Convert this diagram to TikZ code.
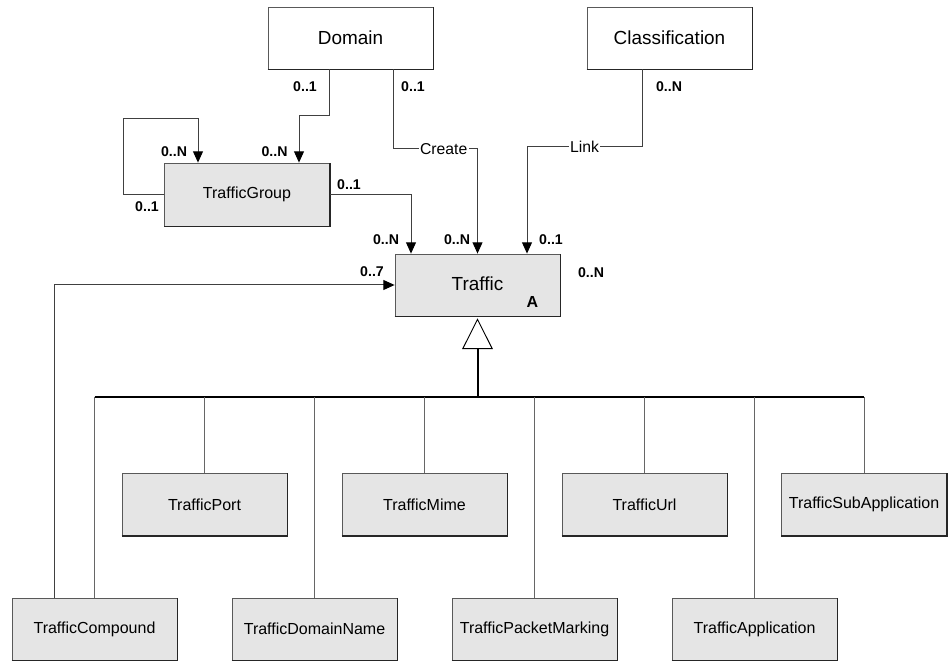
\documentclass[tikz,border=0pt]{standalone}
\usepackage{fontspec}
\setmainfont{Liberation Sans}
\usetikzlibrary{arrows.meta,calc}
\begin{document}
\begin{tikzpicture}[x=0.75pt,y=-0.75pt,
  classbox/.style={draw=black!65, line width=0.6pt, fill=black!10,
    minimum width=123.75pt, minimum height=46.5pt, inner sep=0pt,
    font=\fontsize{12}{14}\selectfont},
  bigbox/.style={classbox, fill=white, font=\fontsize{14.2}{17}\selectfont},
  mult/.style={font=\bfseries\fontsize{10.6}{13}\selectfont, inner sep=0pt},
  assoc/.style={draw=black!75, line width=0.75pt,
    -{Triangle[width=7.5pt,length=8.5pt,color=black]}},
  rolelbl/.style={fill=white, inner sep=1pt, font=\fontsize{11.8}{14}\selectfont},
  drop/.style={draw=black!60, line width=0.6pt},
  busline/.style={draw=black, line width=1.2pt}]

\useasboundingbox (0,0) rectangle (948,666);

% classes
\node[bigbox] (domain) at (350.5,38) {Domain};
\node[bigbox] (classif) at (669.5,38) {Classification};
\node[classbox, minimum height=47.25pt] (tgroup) at (247,194.5) {TrafficGroup};
\node[classbox, font=\fontsize{14.2}{17}\selectfont] (traffic) at (477.5,285) {\raisebox{1.5pt}{Traffic}};
\node[font=\bfseries\fontsize{12}{14}\selectfont, inner sep=0pt] (abstract)
  at ($(traffic.south east)+(-28,-14)$) {A};

\node[classbox] (tport) at (204.5,504.5) {TrafficPort};
\node[classbox] (tmime) at (424.5,504.5) {TrafficMime};
\node[classbox] (turl)  at (644.5,504.5) {TrafficUrl};
\node[classbox] (tsub)  at (864,504.5) {TrafficSubApplication};
\node[classbox] (tcomp) at (94.5,629) {TrafficCompound};
\node[classbox] (tdom)  at (314.5,629) {TrafficDomainName};
\node[classbox] (tpack) at (534.5,629) {TrafficPacketMarking};
\node[classbox] (tapp)  at (754.5,629) {TrafficApplication};

% darker lower and right edges of every class box
\foreach \n in {domain,classif,tgroup,traffic,tport,tmime,turl,tsub,tcomp,tdom,tpack,tapp}
  \draw[black!85, line width=1.1pt] (\n.south west) -- (\n.south east) -- (\n.north east);

% inheritance tree
\coordinate (bus) at (477.5,397);
\draw[busline] (tcomp.north |- bus) -- (tsub.north |- bus);
\draw[line width=1.5pt, -{Triangle[fill=white,width=23pt,length=23pt,line width=0.7pt]},
  shorten >=1.5pt] (bus) -- (traffic.south);
\foreach \n in {tport,tmime,turl,tsub,tcomp,tdom,tpack,tapp}
  \draw[drop] (\n.north |- bus) -- (\n.north);

% associations
\draw[assoc] ($(domain.south)+(-21.5,0)$) -- ++(0,46) -| ($(tgroup.north)+(52,0)$);
\draw[assoc] ($(domain.south)+(42.5,0)$) |- node[rolelbl, pos=0.8] (create) {Create}
  ($(traffic.north)+(0,-105)$) -- (traffic.north);
\draw[assoc] ($(classif.south)+(-27.5,0)$) |- node[rolelbl, pos=0.75] (link) {Link}
  ($(traffic.north)+(49.5,-107)$) -- ($(traffic.north)+(49.5,0)$);
\draw[assoc] (tgroup.east) -| ($(traffic.north)+(-66.5,0)$);
\draw[assoc] (tgroup.west) -- ++(-41,0) |- ($(tgroup.north)+(-49,-44)$)
  -- ($(tgroup.north)+(-49,0)$);
\draw[assoc] ($(tcomp.north)+(-40.5,0)$) |- (traffic.west);

% multiplicities
\node[mult] (m1)  at (305,87)  {0..1};
\node[mult] (m2)  at (413,87)  {0..1};
\node[mult] (m3)  at (669,87)  {0..N};
\node[mult] (m4)  at (174,152) {0..N};
\node[mult] (m5)  at (274.5,152) {0..N};
\node[mult] (m6)  at (147,207) {0..1};
\node[mult] (m7)  at (349,185) {0..1};
\node[mult] (m8)  at (386,240) {0..N};
\node[mult] (m9)  at (457,240) {0..N};
\node[mult] (m10) at (551,240) {0..1};
\node[mult] (m11) at (591,273) {0..N};
\node[mult] (m12) at (372,272) {0..7};

\end{tikzpicture}
\end{document}
